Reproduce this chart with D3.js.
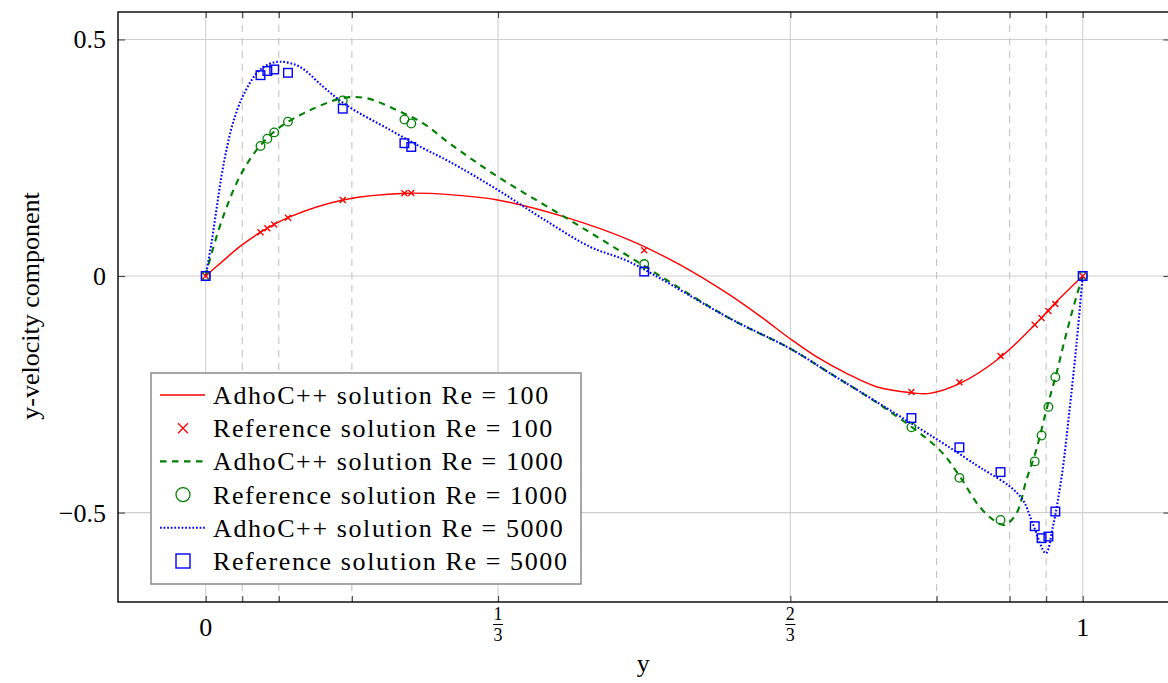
<!DOCTYPE html>
<html>
<head>
<meta charset="utf-8">
<script src="https://cdn.jsdelivr.net/npm/d3@7"></script>
<style>
  body { margin: 0; background: #fff; }
  svg text { font-family: "Liberation Serif", "DejaVu Serif", "Noto Serif", serif; fill: #000; }
</style>
</head>
<body>
<div class="chart"></div>
<script>
// Lid-driven cavity: y-velocity along the horizontal centre line
var svgWidth = 1168;
var svgHeight = 683;

// plot box (x range runs a bit past the right edge of the picture)
var box = { left: 118, right: 1170.4, top: 12, bottom: 602 };

// Reference solution (Ghia et al.)
var refX = [1.0, 0.9688, 0.9609, 0.9531, 0.9453, 0.9063, 0.8594, 0.8047, 0.5, 0.2344, 0.2266, 0.1563, 0.0938, 0.0781, 0.0703, 0.0625, 0.0];
var ref100 = [0.0, -0.05906, -0.07391, -0.08864, -0.10313, -0.16914, -0.22445, -0.24533, 0.05454, 0.17527, 0.17507, 0.16077, 0.12317, 0.10890, 0.10091, 0.09233, 0.0];
var ref1000 = [0.0, -0.21388, -0.27669, -0.33714, -0.39188, -0.51550, -0.42665, -0.31966, 0.02526, 0.32235, 0.33075, 0.37095, 0.32627, 0.30353, 0.29012, 0.27485, 0.0];
var ref5000 = [0.0, -0.49774, -0.55069, -0.55408, -0.52876, -0.41442, -0.36214, -0.30018, 0.00945, 0.27280, 0.28066, 0.35368, 0.42951, 0.43648, 0.43329, 0.42447, 0.0];

// AdhoC++ solutions
var adhocX100 = [0, 0.0198, 0.0388, 0.0635, 0.0958, 0.1566, 0.229, 0.278, 0.333, 0.409, 0.4834, 0.5405, 0.5975, 0.6355, 0.666, 0.6963, 0.7306, 0.7648, 0.8047, 0.8255, 0.860, 0.907, 0.945, 0.968, 1.0];
var adhocV100 = [0, 0.032, 0.062, 0.0937, 0.125, 0.1607, 0.1748, 0.172, 0.1607, 0.125, 0.076, 0.024, -0.040, -0.0895, -0.132, -0.1705, -0.2057, -0.234, -0.2467, -0.248, -0.227, -0.1705, -0.1036, -0.058, 0];

var adhocX1000 = [0, 0.0046, 0.0198, 0.0388, 0.058, 0.0806, 0.115, 0.1566, 0.183, 0.2174, 0.248, 0.278, 0.333, 0.409, 0.483, 0.5975, 0.666, 0.712, 0.772, 0.837, 0.860, 0.8826, 0.900, 0.911, 0.9244, 0.9358, 0.947, 0.9586, 0.970, 0.9814, 0.9928, 1.0];
var adhocV1000 = [0, 0.034, 0.125, 0.21, 0.266, 0.309, 0.347, 0.376, 0.376, 0.351, 0.3228, 0.2805, 0.21, 0.125, 0.041, -0.0895, -0.153, -0.2057, -0.276, -0.368, -0.424, -0.488, -0.518, -0.526, -0.502, -0.431, -0.368, -0.283, -0.206, -0.121, -0.0437, 0];

var adhocX5000 = [0, 0.0065, 0.0122, 0.0179, 0.0236, 0.031, 0.0426, 0.058, 0.070, 0.0844, 0.107, 0.134, 0.160, 0.210, 0.248, 0.278, 0.333, 0.381, 0.438, 0.483, 0.5975, 0.666, 0.712, 0.772, 0.848, 0.879, 0.894, 0.917, 0.932, 0.943, 0.958, 0.966, 0.976, 0.985, 0.993, 1.0];
var adhocV5000 = [0, 0.069, 0.14, 0.21, 0.266, 0.323, 0.381, 0.4285, 0.446, 0.453, 0.4425, 0.400, 0.3615, 0.309, 0.270, 0.2417, 0.182, 0.125, 0.062, 0.030, -0.0895, -0.153, -0.2057, -0.274, -0.362, -0.400, -0.417, -0.445, -0.474, -0.523, -0.586, -0.530, -0.424, -0.283, -0.142, 0];

// ticks
var xTickValues = [0, 1 / 3, 2 / 3, 1];
var xTickLabels = [["0"], ["1", "3"], ["2", "3"], ["1"]];
var xExtraTicks = [1 / 24, 1 / 12, 1 / 6, 5 / 6, 11 / 12, 23 / 24];
var yTickValues = [0.5, 0, -0.5];
var yTickLabels = ["0.5", "0", "\u22120.5"];

var legendLabels = [
  "AdhoC++ solution Re = 100",
  "Reference solution Re = 100",
  "AdhoC++ solution Re = 1000",
  "Reference solution Re = 1000",
  "AdhoC++ solution Re = 5000",
  "Reference solution Re = 5000"
];

var red = "#ff0000", green = "#008000", blue = "#0000ff";

var svg = d3.select(".chart")
  .append("svg")
  .attr("width", svgWidth)
  .attr("height", svgHeight)
  .attr("font-family", "'Liberation Serif', 'DejaVu Serif', serif");

var xScale = d3.scaleLinear().domain([-0.1, 1.1]).range([box.left, box.right]);
var yScale = d3.scaleLinear().domain([-0.689, 0.558]).range([box.bottom, box.top]);

svg.append("defs").append("clipPath").attr("id", "clip")
  .append("rect")
  .attr("x", box.left).attr("y", box.top)
  .attr("width", box.right - box.left).attr("height", box.bottom - box.top);

// grid
var grid = svg.append("g");
grid.selectAll(".hgrid")
  .data(yTickValues)
  .enter().append("line")
  .attr("x1", box.left).attr("x2", box.right)
  .attr("y1", d => yScale(d)).attr("y2", d => yScale(d))
  .attr("stroke", "#cfcfcf").attr("stroke-width", 1.1);

grid.selectAll(".vgrid")
  .data(xTickValues)
  .enter().append("line")
  .attr("x1", d => xScale(d)).attr("x2", d => xScale(d))
  .attr("y1", box.top).attr("y2", box.bottom)
  .attr("stroke", "#cfcfcf").attr("stroke-width", 1.1);

grid.selectAll(".vdash")
  .data(xExtraTicks)
  .enter().append("line")
  .attr("x1", d => xScale(d)).attr("x2", d => xScale(d))
  .attr("y1", box.top).attr("y2", box.bottom)
  .attr("stroke", "#c4c4c4").attr("stroke-width", 1.1)
  .attr("stroke-dasharray", "7,6");

// axes with inward ticks on all sides
var bottomAxis = d3.axisTop(xScale).tickValues(xTickValues.concat(xExtraTicks)).tickSize(6).tickFormat("");
var topAxis = d3.axisBottom(xScale).tickValues(xTickValues.concat(xExtraTicks)).tickSize(6).tickFormat("");
var leftAxis = d3.axisRight(yScale).tickValues(yTickValues).tickSize(7).tickFormat("");
var rightAxis = d3.axisLeft(yScale).tickValues(yTickValues).tickSize(7).tickFormat("");

[[bottomAxis, `translate(0, ${box.bottom})`], [topAxis, `translate(0, ${box.top})`],
 [leftAxis, `translate(${box.left}, 0)`], [rightAxis, `translate(${box.right}, 0)`]].forEach(function (a) {
  var g = svg.append("g").attr("transform", a[1]).call(a[0]);
  g.select(".domain").remove();
  g.selectAll("line").attr("stroke", "#444").attr("stroke-width", 1.1);
});

svg.append("rect")
  .attr("x", box.left).attr("y", box.top)
  .attr("width", box.right - box.left).attr("height", box.bottom - box.top)
  .attr("fill", "none").attr("stroke", "#000").attr("stroke-width", 1.4);

// tick labels
yTickValues.forEach(function (v, i) {
  svg.append("text")
    .attr("x", 106).attr("y", yScale(v) + 9)
    .attr("text-anchor", "end")
    .style("font-size", "26px")
    .text(yTickLabels[i]);
});

xTickValues.forEach(function (v, i) {
  var lab = xTickLabels[i];
  var cx = xScale(v);
  if (lab.length === 1) {
    svg.append("text")
      .attr("x", cx).attr("y", 636)
      .attr("text-anchor", "middle")
      .style("font-size", "26px")
      .text(lab[0]);
  } else {
    svg.append("text").attr("x", cx).attr("y", 620)
      .attr("text-anchor", "middle").style("font-size", "18px").text(lab[0]);
    svg.append("line")
      .attr("x1", cx - 5).attr("x2", cx + 5)
      .attr("y1", 624.5).attr("y2", 624.5)
      .attr("stroke", "#000").attr("stroke-width", 1);
    svg.append("text").attr("x", cx).attr("y", 641)
      .attr("text-anchor", "middle").style("font-size", "18px").text(lab[1]);
  }
});

// axis labels
svg.append("text")
  .attr("x", (box.left + box.right) / 2 - 1).attr("y", 672)
  .attr("text-anchor", "middle")
  .style("font-size", "26px")
  .text("y");

svg.append("text")
  .attr("transform", "translate(39, 306) rotate(-90)")
  .attr("text-anchor", "middle")
  .style("font-size", "26px")
  .text("y-velocity component");

// curves
var plot = svg.append("g").attr("clip-path", "url(#clip)");

var line = d3.line()
  .x(d => xScale(d[0]))
  .y(d => yScale(d[1]))
  .curve(d3.curveCatmullRom.alpha(0.5));

var series = [
  { x: adhocX100, v: adhocV100, color: red, width: 1.4, dash: null },
  { x: adhocX1000, v: adhocV1000, color: green, width: 2.1, dash: "6.5,5.5" },
  { x: adhocX5000, v: adhocV5000, color: blue, width: 2.1, dash: "1.7,1.9" }
];

series.forEach(function (s) {
  plot.append("path")
    .datum(s.x.map((x, i) => [x, s.v[i]]))
    .attr("d", line)
    .attr("fill", "none")
    .attr("stroke", s.color)
    .attr("stroke-width", s.width)
    .attr("stroke-dasharray", s.dash);
});

// markers
function cross(g, cx, cy, r, color) {
  g.append("path")
    .attr("d", `M${cx - r},${cy - r}L${cx + r},${cy + r}M${cx - r},${cy + r}L${cx + r},${cy - r}`)
    .attr("stroke", color).attr("stroke-width", 1.3).attr("fill", "none");
}
function circle(g, cx, cy, r, color) {
  g.append("circle").attr("cx", cx).attr("cy", cy).attr("r", r)
    .attr("stroke", color).attr("stroke-width", 1.3).attr("fill", "none");
}
function square(g, cx, cy, r, color) {
  g.append("rect").attr("x", cx - r).attr("y", cy - r)
    .attr("width", 2 * r).attr("height", 2 * r)
    .attr("stroke", color).attr("stroke-width", 1.4).attr("fill", "none");
}

refX.forEach(function (x, i) {
  cross(plot, xScale(x), yScale(ref100[i]), 3, red);
});
refX.forEach(function (x, i) {
  circle(plot, xScale(x), yScale(ref1000[i]), 4.3, green);
});
refX.forEach(function (x, i) {
  square(plot, xScale(x), yScale(ref5000[i]), 4.3, blue);
});

// legend
var legend = svg.append("g");
legend.append("rect")
  .attr("x", 151).attr("y", 373)
  .attr("width", 430).attr("height", 211)
  .attr("fill", "#fff").attr("stroke", "#8a8a8a").attr("stroke-width", 1.5);

legendLabels.forEach(function (lab, i) {
  var cy = 395 + i * 33.2;
  if (i === 0 || i === 2 || i === 4) {
    var s = series[i / 2];
    legend.append("line")
      .attr("x1", 160).attr("x2", 205)
      .attr("y1", cy).attr("y2", cy)
      .attr("stroke", s.color).attr("stroke-width", s.width)
      .attr("stroke-dasharray", s.dash);
  } else if (i === 1) {
    cross(legend, 183, cy, 5, red);
  } else if (i === 3) {
    circle(legend, 183, cy, 7, green);
  } else {
    square(legend, 183, cy, 7, blue);
  }
  legend.append("text")
    .attr("x", 213).attr("y", cy + 9)
    .style("font-size", "26px")
    .style("letter-spacing", "1.6px")
    .text(lab);
});
</script>
</body>
</html>
